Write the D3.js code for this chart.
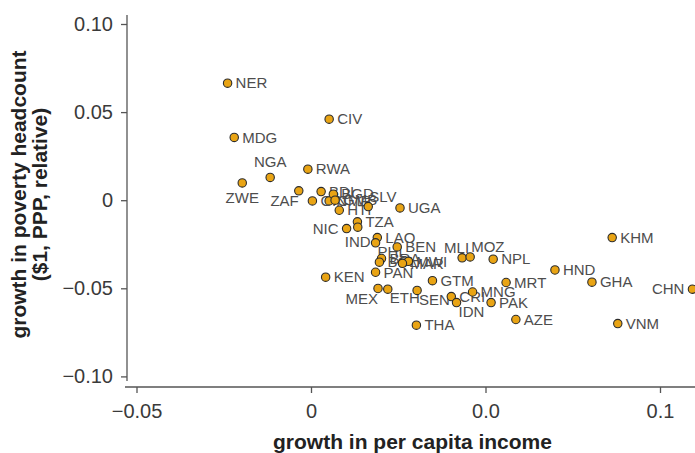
<!DOCTYPE html>
<html><head><meta charset="utf-8">
<script src="https://cdn.jsdelivr.net/npm/d3@7"></script>
<style>body{margin:0;background:#fff}</style>
</head><body>
<svg id="c" width="695" height="453"></svg>
<script>
const countries = ["NER","CIV","MDG","NGA","ZWE","ZAF","RWA","GIN","BDI","CMR","BGD","GMB","HTI","SLV","UGA","TZA","IND","NIC","LAO","PHL","BEN","BRA","BOL","MWI","MAR","KEN","PAN","GTM","MEX","ETH","SEN","CRI","MNG","IDN","THA","MLI","MOZ","NPL","MRT","PAK","AZE","HND","KHM","GHA","VNM","CHN"];
const incomeGrowth = [-0.0239,0.0052,-0.0220,-0.0117,-0.0197,-0.0035,-0.0009,0.0004,0.0029,0.0052,0.0064,0.0069,0.0081,0.0164,0.0255,0.0133,0.0134,0.0102,0.0190,0.0185,0.0247,0.0202,0.0196,0.0279,0.0262,0.0042,0.0185,0.0348,0.0192,0.0220,0.0304,0.0402,0.0463,0.0417,0.0302,0.0433,0.0456,0.0522,0.0559,0.0516,0.0587,0.0699,0.0863,0.0805,0.0879,0.1093];
const povertyGrowth = [0.0664,0.0460,0.0356,0.0129,0.0098,0.0053,0.0176,-0.0004,0.0049,-0.0004,0.0034,0.0000,-0.0057,-0.0036,-0.0044,-0.0123,-0.0153,-0.0161,-0.0212,-0.0242,-0.0265,-0.0331,-0.0352,-0.0347,-0.0358,-0.0437,-0.0409,-0.0457,-0.0501,-0.0505,-0.0512,-0.0547,-0.0521,-0.0581,-0.0709,-0.0327,-0.0322,-0.0335,-0.0467,-0.0581,-0.0677,-0.0396,-0.0212,-0.0465,-0.0700,-0.0505];
const labelSide = ["r","r","r","a","b","bl","r","r","r","r","r","r","r","ar","r","r","b","l","r","br","r","r","r","r","r","r","r","r","bl","br","br","r","r","br","r","al","ar","r","r","r","r","r","r","r","r","l"];
const xTicks = [-0.05, 0, 0.05, 0.1];
const xTickLabels = ["\u22120.05","0","0.0","0.1"];
const yTicks = [0.10, 0.05, 0, -0.05, -0.10];
const yTickLabels = ["0.10","0.05","0","\u22120.05","\u22120.10"];

const svg = d3.select("#c");
const x = d3.scaleLinear().domain([-0.05, 0.1]).range([136.5, 660]);
const y = d3.scaleLinear().domain([-0.1, 0.1]).range([376.4, 24]);
const yAxisX = 127, xAxisY = 387;
const FONT = "Liberation Sans, Arial, Helvetica, sans-serif";

const gx = svg.append("g").attr("transform",`translate(0,${xAxisY})`)
  .call(d3.axisBottom(x).tickValues(xTicks).tickSize(6).tickPadding(11).tickFormat((d,i)=>xTickLabels[i]));
gx.select(".domain").attr("d","M125,0H695");
const gy = svg.append("g").attr("transform",`translate(${yAxisX},0)`)
  .call(d3.axisLeft(y).tickValues(yTicks).tickSize(6).tickPadding(8).tickFormat((d,i)=>yTickLabels[i]));
gy.select(".domain").attr("d","M0,15V381");
[gx,gy].forEach(g=>{
  g.selectAll(".domain,line").attr("stroke","#555").attr("stroke-width",1.3);
  g.selectAll("text").attr("font-family",FONT).attr("font-size",20).attr("fill","#3a3a3a");
});

const pts = countries.map((c,i)=>({c, x:incomeGrowth[i], y:povertyGrowth[i], s:labelSide[i]}));
const off = {r:[8,0,"start","0.35em"], l:[-8,0,"end","0.35em"], a:[0,-10,"middle","0em"], b:[0,9,"middle","0.75em"],
  bl:[0,4,"end","0.75em"], br:[2,3,"start","0.75em"], ar:[1,-5,"start","0em"], al:[7,-5,"end","0em"]};
svg.append("g").selectAll("text").data(pts).join("text")
  .attr("x",d=>x(d.x)+off[d.s][0]).attr("y",d=>y(d.y)+off[d.s][1])
  .attr("text-anchor",d=>off[d.s][2]).attr("dy",d=>off[d.s][3])
  .attr("font-family",FONT).attr("font-size",15).attr("fill","#4d4d4d")
  .text(d=>d.c);
svg.append("g").selectAll("circle").data(pts).join("circle")
  .attr("cx",d=>x(d.x)).attr("cy",d=>y(d.y)).attr("r",4.2)
  .attr("fill","#E9A414").attr("stroke","#2b2b2b").attr("stroke-width",1.1);

svg.append("text").attr("x",412.5).attr("y",449).attr("text-anchor","middle")
  .attr("font-family",FONT).attr("font-weight","bold").attr("font-size",21).attr("fill","#222")
  .text("growth in per capita income");
const yt = svg.append("text").attr("transform","translate(0,194.5) rotate(-90)").attr("text-anchor","middle")
  .attr("font-family",FONT).attr("font-weight","bold").attr("font-size",21).attr("fill","#222");
yt.append("tspan").attr("x",0).attr("y",26).text("growth in poverty headcount");
yt.append("tspan").attr("x",0).attr("y",47).text("($1, PPP, relative)");
</script>
</body></html>
